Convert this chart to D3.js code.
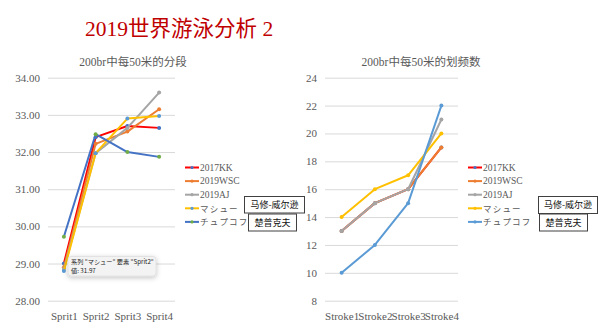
<!DOCTYPE html>
<html><head><meta charset="utf-8">
<script src="https://cdn.jsdelivr.net/npm/d3@7/dist/d3.min.js"></script>
<style>body{margin:0;background:#fff}svg{display:block}</style>
</head><body>
<svg id="c" width="610" height="328"></svg>
<script>
const sprits = ["Sprit1","Sprit2","Sprit3","Sprit4"];
const strokes = ["Stroke1","Stroke2","Stroke3","Stroke4"];
const seriesNames = ["2017KK","2019WSC","2019AJ","マシュー","チュプコフ"];
// split times (seconds)
const split2017KK   = [29.00, 32.40, 32.70, 32.65];
const split2019WSC  = [28.90, 32.22, 32.55, 33.15];
const split2019AJ   = [28.85, 31.97, 32.65, 33.60];
const splitMatthew  = [28.80, 31.97, 32.90, 32.97];
const splitChupkov  = [29.72, 32.48, 32.00, 31.87];
// stroke counts
const stroke2017KK  = [13, 15, 16, 19];
const stroke2019WSC = [13, 15, 16, 19];
const stroke2019AJ  = [13, 15, 16, 21];
const strokeMatthew = [14, 16, 17, 20];
const strokeChupkov = [10, 12, 15, 22];
const splitTicks = [28,29,30,31,32,33,34];
const strokeTicks = [8,10,12,14,16,18,20,22,24];
const notes = ["马修-威尔逊","楚普克夫"];

const leftLine   = ["#ff0000","#ed7d31","#a5a5a5","#ffc000","#4472c4"];
const leftMark   = ["#4472c4","#ed7d31","#a5a5a5","#5b9bd5","#70ad47"];
const rightLine  = ["#ff0000","#ed7d31","#a5a5a5","#ffc000","#5b9bd5"];
const rightMark  = ["#4472c4","#ed7d31","#a5a5a5","#ffc000","#5b9bd5"];

const svg = d3.select("#c");
const SERIF = "'Liberation Serif','Noto Sans CJK SC',serif";
const CJK = "'Noto Sans CJK JP','Noto Sans CJK SC',sans-serif";

svg.append("text").attr("x",85).attr("y",36)
  .attr("font-family",SERIF).attr("font-size",21.5).attr("fill","#c00000")
  .text("2019世界游泳分析 2");

function chart(o){
  const g = svg.append("g");
  const x = d3.scalePoint().domain(o.cats).range([o.x0,o.x1]).padding(0.5);
  const y = d3.scaleLinear().domain(o.dom).range([300.7,77.7]);
  const ax = g.append("g").attr("transform",`translate(${o.x0},0)`)
    .call(d3.axisLeft(y).tickValues(o.ticks).tickSize(-(o.x1-o.x0)).tickPadding(o.pad).tickFormat(o.fmt));
  ax.select(".domain").remove();
  ax.selectAll("line").attr("stroke","#d9d9d9").attr("stroke-width",1);
  ax.selectAll("text").attr("font-family",SERIF).attr("font-size",11).attr("fill","#595959");
  const bx = g.append("g").attr("transform","translate(0,301)")
    .call(d3.axisBottom(x).tickSize(0).tickPadding(11));
  bx.select(".domain").remove();
  bx.selectAll("text").attr("font-family",SERIF).attr("font-size",11).attr("fill","#595959");
  g.append("text").attr("x",o.tx).attr("y",66).attr("text-anchor","middle")
    .attr("font-family",SERIF).attr("font-size",11.5).attr("fill","#595959").text(o.title);
  const line = d3.line().x((d,i)=>x(o.cats[i])).y(d=>y(d));
  o.data.forEach((s,k)=>{
    g.append("path").attr("d",line(s)).attr("fill","none")
      .attr("stroke",o.lc[k]).attr("stroke-width",2).attr("stroke-linejoin","round");
    g.selectAll(null).data(s).enter().append("circle")
      .attr("cx",(d,i)=>x(o.cats[i])).attr("cy",d=>y(d)).attr("r",2)
      .attr("fill",o.mc[k]);
  });
  seriesNames.forEach((n,k)=>{
    const ly = 167.5 + k*13.6;
    g.append("line").attr("x1",o.lx).attr("x2",o.lx+14).attr("y1",ly).attr("y2",ly)
      .attr("stroke",o.lc[k]).attr("stroke-width",2);
    g.append("circle").attr("cx",o.lx+7).attr("cy",ly).attr("r",1.6).attr("fill",o.mc[k]);
    const isK = k>=3;
    g.append("text").attr("x",o.lx+15).attr("y",ly+3.2)
      .attr("font-family",isK?CJK:SERIF).attr("font-size",isK?8.5:9.5)
      .attr("letter-spacing",isK?1.2:0).attr("fill","#595959").text(n);
  });
  o.boxes.forEach((b,k)=>{
    g.append("rect").attr("x",b[0]+0.5).attr("y",b[1]+0.5).attr("width",b[2]).attr("height",b[3])
      .attr("fill","#fff").attr("stroke","#404040").attr("stroke-width",1);
    g.append("text").attr("x",b[0]+b[2]/2+0.5).attr("y",b[1]+b[3]/2+3.8).attr("text-anchor","middle")
      .attr("font-family","'Noto Sans CJK SC',sans-serif").attr("font-size",9).attr("fill","#111")
      .text(notes[k]);
  });
  return {x,y,g};
}

chart({cats:sprits, dom:[28,34], ticks:splitTicks, x0:48, x1:175, pad:8,
  fmt:d3.format(".2f"), title:"200br中每50米的分段", tx:133,
  data:[split2017KK,split2019WSC,split2019AJ,splitMatthew,splitChupkov],
  lc:leftLine, mc:leftMark, lx:185, boxes:[[244,196,60,16.5],[248,213.5,48,17]]});

chart({cats:strokes, dom:[8,24], ticks:strokeTicks, x0:325, x1:458, pad:8,
  fmt:d3.format("d"), title:"200br中每50米的划频数", tx:421,
  data:[stroke2017KK,stroke2019WSC,stroke2019AJ,strokeMatthew,strokeChupkov],
  lc:rightLine, mc:rightMark, lx:468, boxes:[[538,196,59,17],[539,213.5,48,17]]});

// tooltip
const defs = svg.append("defs");
const f = defs.append("filter").attr("id","sh").attr("x","-20%").attr("y","-40%").attr("width","140%").attr("height","200%");
f.append("feDropShadow").attr("dx",0).attr("dy",1.5).attr("stdDeviation",2.5).attr("flood-color","#000").attr("flood-opacity",0.25);
const tip = svg.append("g");
tip.append("rect").attr("x",68).attr("y",256.5).attr("width",88).attr("height",19.5).attr("rx",3)
  .attr("fill","#f3f3f3").attr("stroke","#d0d0d0").attr("stroke-width",0.5).attr("filter","url(#sh)");
tip.append("text").attr("x",71).attr("y",264).attr("font-family",CJK).attr("font-size",6.2).attr("fill","#222")
  .text("系列 \"マシュー\" 要素 \"Sprit2\"");
tip.append("text").attr("x",71).attr("y",273.3).attr("font-family",CJK).attr("font-size",6.2).attr("fill","#222")
  .text("値: " + splitMatthew[1].toFixed(2));
</script>
</body></html>
